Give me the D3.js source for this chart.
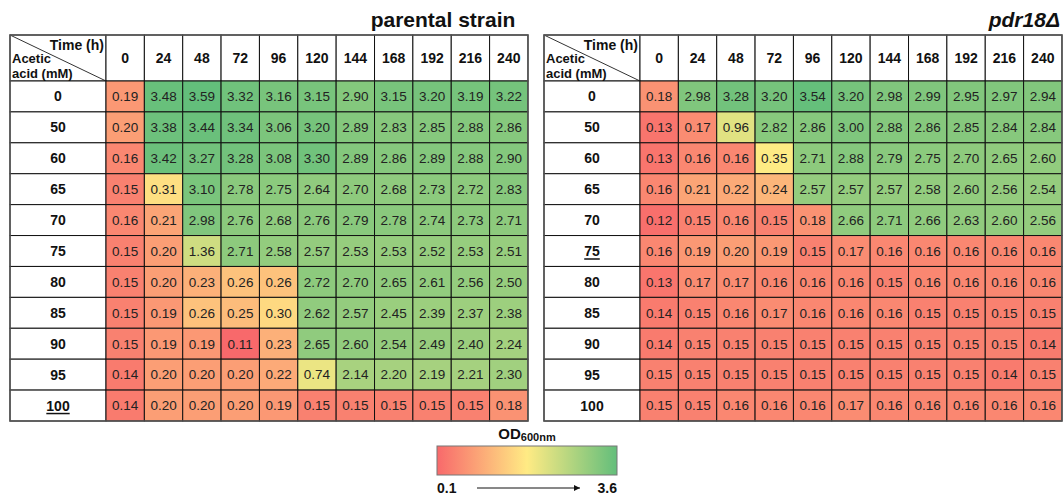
<!DOCTYPE html>
<html>
<head>
<meta charset="utf-8">
<script src="https://cdn.jsdelivr.net/npm/d3@7"></script>
<style>
  html, body { margin: 0; padding: 0; background: #fff; }
  svg { display: block; font-family: "Liberation Sans", Arial, sans-serif; }
</style>
</head>
<body>
<svg id="chart" width="1063" height="496"></svg>
<script>
// ---------- data ----------
const times = ["0", "24", "48", "72", "96", "120", "144", "168", "192", "216", "240"];
const acids = ["0", "50", "60", "65", "70", "75", "80", "85", "90", "95", "100"];

const parental = [
  [0.19, 3.48, 3.59, 3.32, 3.16, 3.15, 2.90, 3.15, 3.20, 3.19, 3.22],
  [0.20, 3.38, 3.44, 3.34, 3.06, 3.20, 2.89, 2.83, 2.85, 2.88, 2.86],
  [0.16, 3.42, 3.27, 3.28, 3.08, 3.30, 2.89, 2.86, 2.89, 2.88, 2.90],
  [0.15, 0.31, 3.10, 2.78, 2.75, 2.64, 2.70, 2.68, 2.73, 2.72, 2.83],
  [0.16, 0.21, 2.98, 2.76, 2.68, 2.76, 2.79, 2.78, 2.74, 2.73, 2.71],
  [0.15, 0.20, 1.36, 2.71, 2.58, 2.57, 2.53, 2.53, 2.52, 2.53, 2.51],
  [0.15, 0.20, 0.23, 0.26, 0.26, 2.72, 2.70, 2.65, 2.61, 2.56, 2.50],
  [0.15, 0.19, 0.26, 0.25, 0.30, 2.62, 2.57, 2.45, 2.39, 2.37, 2.38],
  [0.15, 0.19, 0.19, 0.11, 0.23, 2.65, 2.60, 2.54, 2.49, 2.40, 2.24],
  [0.14, 0.20, 0.20, 0.20, 0.22, 0.74, 2.14, 2.20, 2.19, 2.21, 2.30],
  [0.14, 0.20, 0.20, 0.20, 0.19, 0.15, 0.15, 0.15, 0.15, 0.15, 0.18]
];

const pdr18 = [
  [0.18, 2.98, 3.28, 3.20, 3.54, 3.20, 2.98, 2.99, 2.95, 2.97, 2.94],
  [0.13, 0.17, 0.96, 2.82, 2.86, 3.00, 2.88, 2.86, 2.85, 2.84, 2.84],
  [0.13, 0.16, 0.16, 0.35, 2.71, 2.88, 2.79, 2.75, 2.70, 2.65, 2.60],
  [0.16, 0.21, 0.22, 0.24, 2.57, 2.57, 2.57, 2.58, 2.60, 2.56, 2.54],
  [0.12, 0.15, 0.16, 0.15, 0.18, 2.66, 2.71, 2.66, 2.63, 2.60, 2.56],
  [0.16, 0.19, 0.20, 0.19, 0.15, 0.17, 0.16, 0.16, 0.16, 0.16, 0.16],
  [0.13, 0.17, 0.17, 0.16, 0.16, 0.16, 0.15, 0.16, 0.16, 0.16, 0.16],
  [0.14, 0.15, 0.16, 0.17, 0.16, 0.16, 0.16, 0.15, 0.15, 0.15, 0.15],
  [0.14, 0.15, 0.15, 0.15, 0.15, 0.15, 0.15, 0.15, 0.15, 0.15, 0.14],
  [0.15, 0.15, 0.15, 0.15, 0.15, 0.15, 0.15, 0.15, 0.15, 0.14, 0.15],
  [0.15, 0.15, 0.16, 0.16, 0.16, 0.17, 0.16, 0.16, 0.16, 0.16, 0.16]
];

const colorStops = [0.11, 0.33, 3.59];
const colorRange = ["#f8696b", "#ffeb84", "#63be7b"];
const legendLabels = ["0.1", "3.6"];

// ---------- drawing ----------
const svg = d3.select("#chart");
const color = d3.scaleLinear().domain(colorStops).range(colorRange).interpolate(d3.interpolateRgb).clamp(true);

const labelW = 96, cellW = 38.36, tableTop = 35, headerH = 46, tableBottom = 421;

function drawTable(x0, data, title, titleOpts, underlined) {
  const g = svg.append("g");
  const x = d3.scaleBand().domain(times).range([x0 + labelW, x0 + labelW + cellW * times.length]);
  const y = d3.scaleBand().domain(acids).range([tableTop + headerH, tableBottom]);
  const right = x0 + labelW + cellW * times.length;

  // header cells
  g.append("rect").attr("x", x0).attr("y", tableTop).attr("width", labelW).attr("height", headerH)
    .attr("fill", "#fff").attr("stroke", "#111").attr("stroke-width", 1);
  g.selectAll(".hcell").data(times).join("rect")
    .attr("x", d => x(d)).attr("y", tableTop).attr("width", x.bandwidth()).attr("height", headerH)
    .attr("fill", "#fff").attr("stroke", "#111").attr("stroke-width", 1);
  g.selectAll(".htext").data(times).join("text")
    .attr("x", d => x(d) + x.bandwidth() / 2).attr("y", tableTop + 28)
    .attr("text-anchor", "middle").attr("font-weight", "bold").attr("font-size", 14)
    .attr("fill", "#111").text(d => d);

  // corner
  g.append("line").attr("x1", x0).attr("y1", tableTop).attr("x2", x0 + labelW).attr("y2", tableTop + headerH)
    .attr("stroke", "#333").attr("stroke-width", 1);
  g.append("text").attr("x", x0 + labelW - 2).attr("y", tableTop + 15).attr("text-anchor", "end")
    .attr("font-weight", "bold").attr("font-size", 14).attr("fill", "#111").text("Time (h)");
  g.append("text").attr("x", x0 + 2).attr("y", tableTop + 28)
    .attr("font-weight", "bold").attr("font-size", 13).attr("fill", "#111").text("Acetic");
  g.append("text").attr("x", x0 + 2).attr("y", tableTop + 42.5)
    .attr("font-weight", "bold").attr("font-size", 13).attr("fill", "#111").text("acid (mM)");

  // row labels
  g.selectAll(".rcell").data(acids).join("rect")
    .attr("x", x0).attr("y", d => y(d)).attr("width", labelW).attr("height", y.bandwidth())
    .attr("fill", "#fff").attr("stroke", "#111").attr("stroke-width", 1);
  const rl = g.selectAll(".rtext").data(acids).join("text")
    .attr("x", x0 + labelW / 2).attr("y", d => y(d) + y.bandwidth() / 2 + 5)
    .attr("text-anchor", "middle").attr("font-weight", "bold").attr("font-size", 14)
    .attr("fill", "#111").text(d => d);
  rl.filter(d => d === underlined).each(function (d) {
    const w = this.getComputedTextLength();
    g.append("line").attr("x1", x0 + labelW / 2 - w / 2).attr("x2", x0 + labelW / 2 + w / 2)
      .attr("y1", y(d) + y.bandwidth() / 2 + 8).attr("y2", y(d) + y.bandwidth() / 2 + 8)
      .attr("stroke", "#111").attr("stroke-width", 1.5);
  });

  // cells
  const cells = [];
  data.forEach((row, i) => row.forEach((v, j) => cells.push({ r: acids[i], c: times[j], v })));
  g.selectAll(".cell").data(cells).join("rect")
    .attr("x", d => x(d.c)).attr("y", d => y(d.r)).attr("width", x.bandwidth()).attr("height", y.bandwidth())
    .attr("fill", d => color(d.v)).attr("stroke", "#111").attr("stroke-width", 1);
  g.selectAll(".ctext").data(cells).join("text")
    .attr("x", d => x(d.c) + x.bandwidth() / 2).attr("y", d => y(d.r) + y.bandwidth() / 2 + 4.8)
    .attr("text-anchor", "middle").attr("font-size", 13.5).attr("fill", "#222")
    .text(d => d.v.toFixed(2));

  // outer border
  g.append("rect").attr("x", x0).attr("y", tableTop).attr("width", right - x0).attr("height", tableBottom - tableTop)
    .attr("fill", "none").attr("stroke", "#555").attr("stroke-width", 1.5);

  // title
  svg.append("text").attr("x", titleOpts.x).attr("y", 27).attr("text-anchor", titleOpts.anchor)
    .attr("font-weight", "bold").attr("font-style", titleOpts.italic ? "italic" : "normal")
    .attr("font-size", 21).attr("fill", "#111").text(title);
}

drawTable(10, parental, "parental strain", { x: 443, anchor: "middle", italic: false }, "100");
drawTable(544, pdr18, "pdr18\u0394", { x: 1060, anchor: "end", italic: true }, "75");

// ---------- legend ----------
const defs = svg.append("defs");
const grad = defs.append("linearGradient").attr("id", "lg").attr("x1", "0%").attr("x2", "100%");
colorRange.forEach((c, i) => grad.append("stop").attr("offset", (i / (colorRange.length - 1) * 100) + "%").attr("stop-color", c));
const lx = 437, lw = 180, ly = 446, lh = 29;
svg.append("rect").attr("x", lx).attr("y", ly).attr("width", lw).attr("height", lh)
  .attr("fill", "url(#lg)").attr("stroke", "#777").attr("stroke-width", 1);
const lt = svg.append("text").attr("x", lx + lw / 2).attr("y", 439).attr("text-anchor", "middle")
  .attr("font-weight", "bold").attr("fill", "#111");
lt.append("tspan").attr("font-size", 15).text("OD");
lt.append("tspan").attr("font-size", 11).attr("dy", 2).text("600nm");
svg.append("text").attr("x", lx).attr("y", 493).attr("font-weight", "bold").attr("font-size", 14)
  .attr("fill", "#111").text(legendLabels[0]);
svg.append("text").attr("x", lx + lw).attr("y", 493).attr("text-anchor", "end").attr("font-weight", "bold")
  .attr("font-size", 14).attr("fill", "#111").text(legendLabels[1]);
defs.append("marker").attr("id", "arr").attr("viewBox", "0 0 10 10").attr("refX", 10).attr("refY", 5)
  .attr("markerWidth", 8).attr("markerHeight", 6).attr("orient", "auto").attr("markerUnits", "userSpaceOnUse")
  .append("path").attr("d", "M0,0 L10,5 L0,10 z").attr("fill", "#111");
svg.append("line").attr("x1", 477).attr("x2", 580).attr("y1", 488).attr("y2", 488)
  .attr("stroke", "#111").attr("stroke-width", 1).attr("marker-end", "url(#arr)");
</script>
</body>
</html>
